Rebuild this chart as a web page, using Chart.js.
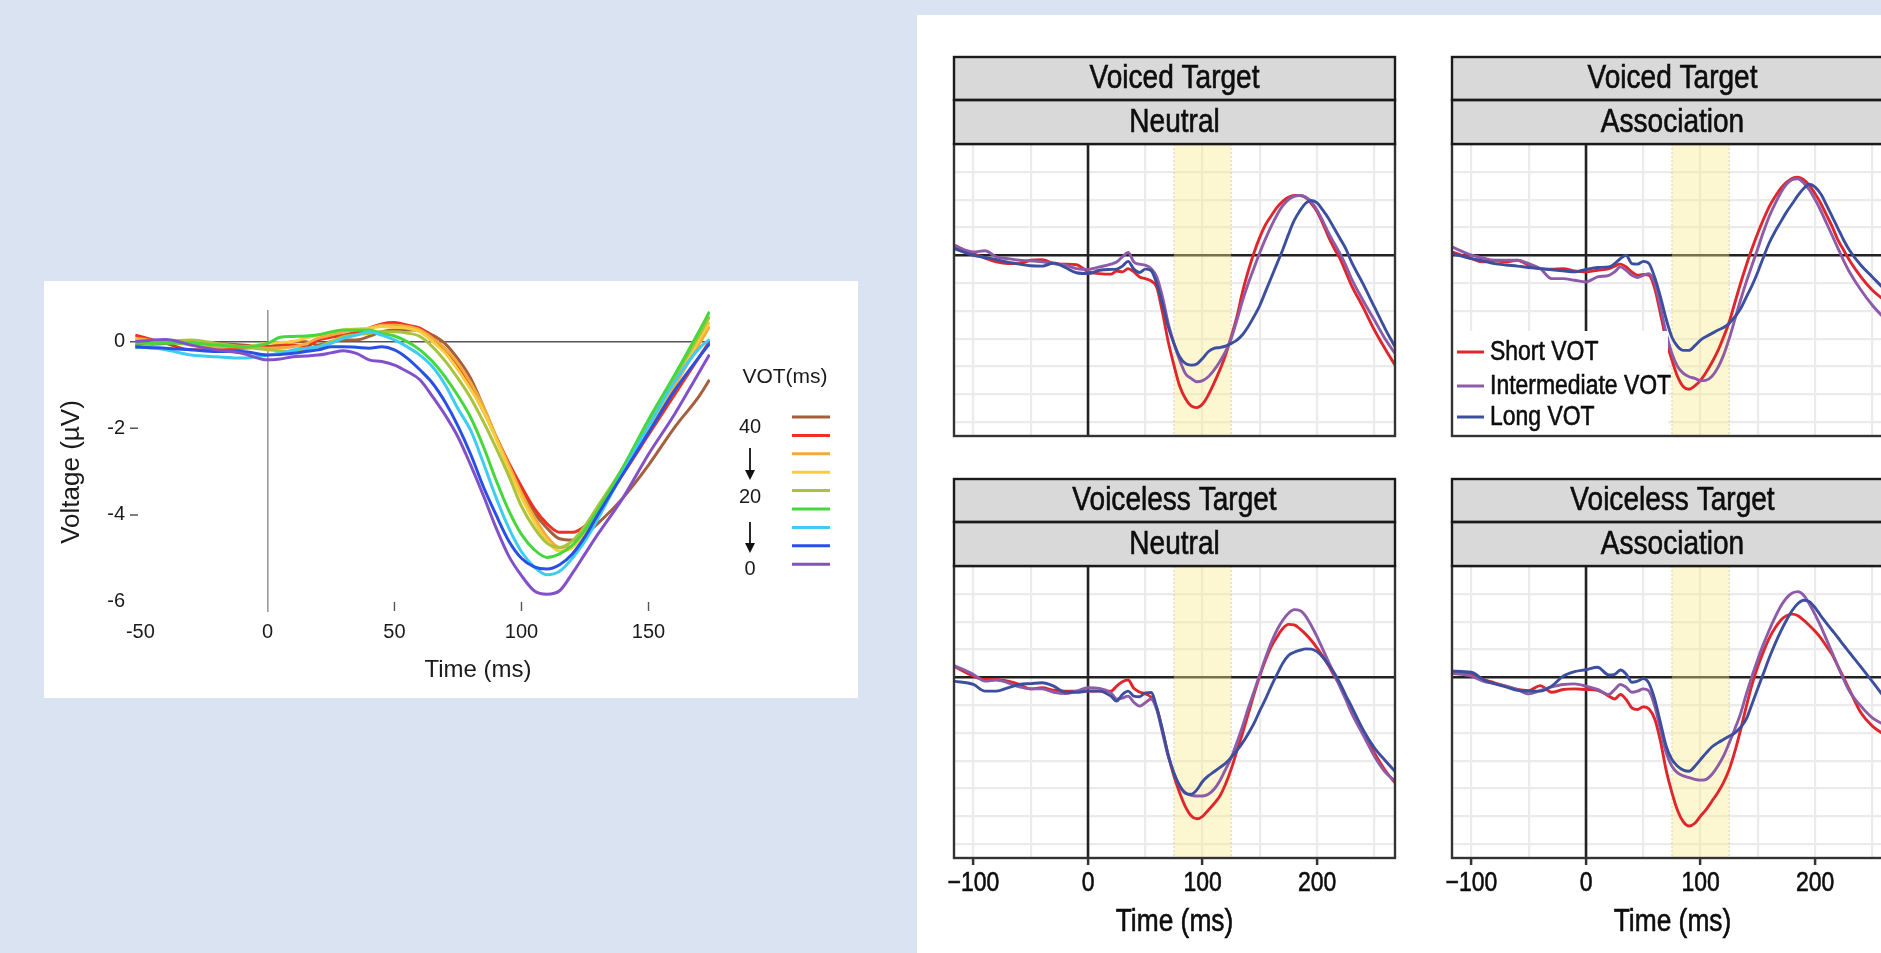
<!DOCTYPE html>
<html><head><meta charset="utf-8">
<script src="https://cdn.jsdelivr.net/npm/chart.js@4.4.1/dist/chart.umd.min.js"></script>
<style>
html,body{margin:0;padding:0;width:1881px;height:953px;overflow:hidden;background:#dae3f2;}
.box{position:absolute;background:#fff;}
canvas{position:absolute;}
</style></head><body>
<div class="box" style="left:44px;top:281px;width:814px;height:417px"></div>
<div class="box" style="left:917px;top:15px;width:964px;height:938px"></div>
<canvas id="left" width="814" height="417" style="left:44px;top:281px"></canvas>
<canvas id="p1" width="491" height="399" style="left:924px;top:47px"></canvas>
<canvas id="p2" width="491" height="399" style="left:1422px;top:47px"></canvas>
<canvas id="p3" width="491" height="484" style="left:924px;top:469px"></canvas>
<canvas id="p4" width="491" height="484" style="left:1422px;top:469px"></canvas>
<script>
// ---------- LEFT CHART DATA ----------
const votTime = [-52,-45,-40,-30,-20,-10,0,5,10,15,20,25,30,35,40,45,50,55,60,65,70,75,80,85,90,95,100,105,110,115,120,125,130,140,150,160,170,174];
const vot40 = [-0.08,-0.06,-0.04,0,-0.04,-0.08,-0.12,-0.06,0,0,-0.08,0,0.04,0.04,0.12,0.23,0.27,0.27,0.27,0.15,-0.05,-0.4,-0.85,-1.5,-2.2,-2.85,-3.45,-3.95,-4.3,-4.55,-4.58,-4.45,-4.2,-3.6,-2.85,-2.0,-1.25,-0.88];
const vot35 = [0.15,0.04,-0.04,-0.19,-0.19,-0.15,-0.12,-0.1,-0.08,-0.12,0.04,0.1,0.15,0.22,0.31,0.41,0.44,0.38,0.31,0.1,-0.2,-0.6,-1.05,-1.6,-2.2,-2.8,-3.35,-3.85,-4.2,-4.4,-4.4,-4.25,-3.9,-3.05,-2.15,-1.25,-0.35,0.0];
const vot30 = [0.08,0.02,0,-0.08,-0.12,-0.12,-0.15,-0.14,-0.12,-0.05,0.08,0.15,0.23,0.27,0.31,0.38,0.38,0.35,0.27,0.08,-0.16,-0.5,-0.95,-1.5,-2.2,-2.85,-3.5,-4.05,-4.5,-4.75,-4.72,-4.4,-3.95,-3.0,-2.0,-1.05,-0.05,0.35];
const vot25 = [0.04,0.02,0,-0.04,-0.08,-0.12,-0.04,-0.02,0,0.08,0.15,0.22,0.27,0.29,0.31,0.35,0.33,0.31,0.23,0.0,-0.27,-0.65,-1.1,-1.6,-2.25,-2.95,-3.6,-4.15,-4.6,-4.83,-4.75,-4.4,-3.9,-2.95,-1.95,-0.95,0.05,0.45];
const vot20 = [-0.15,-0.05,0,0.04,-0.04,-0.12,-0.19,-0.21,-0.23,-0.18,-0.12,0.0,0.12,0.16,0.19,0.23,0.23,0.2,0.12,-0.12,-0.45,-0.85,-1.3,-1.85,-2.45,-3.1,-3.8,-4.3,-4.65,-4.75,-4.6,-4.25,-3.8,-2.9,-1.85,-0.85,0.15,0.58];
const vot15 = [-0.04,-0.04,-0.04,-0.04,-0.08,-0.12,-0.04,0.1,0.12,0.13,0.16,0.22,0.27,0.27,0.27,0.19,0.13,0.0,-0.19,-0.46,-0.82,-1.25,-1.75,-2.42,-3.2,-3.9,-4.45,-4.8,-4.98,-4.9,-4.7,-4.35,-3.9,-2.9,-1.8,-0.8,0.25,0.69];
const vot10 = [-0.12,-0.15,-0.19,-0.31,-0.35,-0.38,-0.31,-0.27,-0.19,-0.15,-0.12,-0.04,0.08,0.15,0.23,0.15,0.04,-0.12,-0.31,-0.58,-1.0,-1.55,-2.05,-2.8,-3.6,-4.3,-4.85,-5.2,-5.38,-5.3,-5.0,-4.6,-4.1,-3.0,-1.95,-0.95,-0.15,0.05];
const vot5 = [-0.12,-0.14,-0.15,-0.19,-0.23,-0.23,-0.31,-0.3,-0.27,-0.23,-0.19,-0.12,-0.12,-0.13,-0.15,-0.12,-0.19,-0.38,-0.65,-0.96,-1.4,-1.95,-2.6,-3.35,-4.0,-4.6,-5.0,-5.2,-5.25,-5.15,-4.9,-4.5,-4.0,-3.05,-2.1,-1.15,-0.35,-0.05];
const vot0 = [0,0.04,0.05,-0.08,-0.19,-0.27,-0.42,-0.4,-0.35,-0.33,-0.31,-0.26,-0.21,-0.27,-0.42,-0.46,-0.54,-0.69,-0.88,-1.27,-1.7,-2.2,-2.85,-3.55,-4.3,-4.95,-5.4,-5.75,-5.83,-5.75,-5.35,-4.9,-4.45,-3.6,-2.6,-1.7,-0.7,-0.3];
const votSeries = [vot40,vot35,vot30,vot25,vot20,vot15,vot10,vot5,vot0];
const votNames = ['40','35','30','25','20','15','10','5','0'];
const votColors = ['#a65f3c','#ec3223','#f3aa3c','#f8cd3c','#a9c33c','#46d73c','#3ccdf0','#2850e6','#8250c8'];
const votLegendText = ['40','20','0'];
const leftXTicks = [-50,0,50,100,150];
const leftYTicks = [0,-2,-4,-6];
const leftXRange = [-54.1,174.2];
const leftYRange = [-6.24,0.73];

// ---------- RIGHT PANELS DATA ----------
const erpTime = [-117,-100,-90,-80,-70,-60,-50,-40,-30,-20,-10,0,10,20,25,30,35,40,45,50,55,60,65,70,75,80,85,90,95,100,105,110,115,120,125,130,135,140,145,150,155,160,165,170,175,180,185,190,195,200,205,210,215,220,225,230,240,250,260,268];
const vnShort = [0.30,0.06,-0.10,-0.24,-0.30,-0.30,-0.18,-0.16,-0.30,-0.32,-0.34,-0.60,-0.66,-0.68,-0.57,-0.60,-0.48,-0.60,-0.78,-0.84,-0.92,-1.15,-2.05,-3.10,-3.95,-4.70,-5.15,-5.42,-5.48,-5.35,-5.03,-4.60,-4.13,-3.60,-2.93,-2.21,-1.30,-0.55,0.10,0.65,1.10,1.42,1.72,1.94,2.08,2.15,2.15,2.07,1.86,1.56,1.14,0.66,0.24,-0.12,-0.60,-1.08,-1.86,-2.69,-3.41,-3.95];
const vnInter = [0.36,0.12,0.16,-0.06,-0.12,-0.18,-0.20,-0.24,-0.30,-0.36,-0.48,-0.51,-0.42,-0.32,-0.24,-0.06,0.10,-0.24,-0.32,-0.36,-0.48,-0.78,-1.50,-2.45,-3.17,-3.77,-4.25,-4.43,-4.55,-4.51,-4.37,-4.13,-3.83,-3.47,-2.99,-2.33,-1.62,-1.00,-0.45,0.10,0.60,1.05,1.45,1.78,2.00,2.12,2.15,2.09,1.92,1.62,1.23,0.80,0.42,0.06,-0.36,-0.84,-1.62,-2.33,-3.05,-3.53];
const vnLong = [0.24,0.00,-0.08,-0.16,-0.25,-0.32,-0.38,-0.39,-0.28,-0.44,-0.63,-0.66,-0.54,-0.51,-0.50,-0.39,-0.22,-0.50,-0.62,-0.50,-0.55,-1.02,-1.74,-2.57,-3.17,-3.65,-3.89,-3.95,-3.91,-3.71,-3.47,-3.35,-3.32,-3.27,-3.17,-3.05,-2.85,-2.55,-2.20,-1.80,-1.30,-0.80,-0.30,0.20,0.75,1.25,1.60,1.87,1.97,1.88,1.62,1.32,0.96,0.60,0.24,-0.24,-1.02,-1.86,-2.69,-3.29];
const vaShort = [0.12,-0.12,-0.24,-0.20,-0.24,-0.18,-0.36,-0.48,-0.50,-0.48,-0.56,-0.60,-0.54,-0.48,-0.39,-0.32,-0.42,-0.60,-0.72,-0.69,-0.72,-1.20,-2.10,-3.05,-3.77,-4.37,-4.73,-4.82,-4.70,-4.50,-4.20,-3.85,-3.45,-2.95,-2.40,-1.70,-1.00,-0.35,0.25,0.80,1.30,1.75,2.10,2.40,2.62,2.77,2.81,2.72,2.51,2.21,1.86,1.44,1.02,0.54,0.18,-0.18,-0.78,-1.26,-1.60,-1.86];
const vaInter = [0.30,0.00,-0.10,-0.18,-0.18,-0.18,-0.30,-0.48,-0.84,-0.84,-0.90,-0.96,-0.78,-0.72,-0.60,-0.42,-0.54,-0.72,-0.80,-0.72,-0.66,-1.02,-1.86,-2.81,-3.53,-4.01,-4.25,-4.37,-4.43,-4.51,-4.49,-4.35,-4.05,-3.60,-3.00,-2.30,-1.60,-0.95,-0.35,0.25,0.85,1.40,1.85,2.25,2.55,2.72,2.75,2.60,2.35,2.00,1.60,1.15,0.70,0.25,-0.20,-0.60,-1.25,-1.80,-2.25,-2.57];
const vaLong = [0.06,-0.12,-0.20,-0.30,-0.35,-0.39,-0.44,-0.48,-0.52,-0.56,-0.60,-0.51,-0.44,-0.42,-0.30,-0.12,0.00,-0.30,-0.32,-0.22,-0.30,-0.80,-1.50,-2.30,-2.95,-3.28,-3.42,-3.42,-3.25,-3.05,-2.92,-2.81,-2.70,-2.60,-2.45,-2.21,-1.92,-1.50,-1.08,-0.60,-0.06,0.45,0.85,1.20,1.55,1.85,2.15,2.40,2.55,2.45,2.20,1.80,1.38,0.96,0.54,0.18,-0.36,-0.78,-1.20,-1.50];
const unShort = [0.39,0.04,-0.08,-0.08,-0.14,-0.26,-0.42,-0.38,-0.47,-0.50,-0.50,-0.50,-0.50,-0.50,-0.32,-0.16,-0.10,-0.40,-0.53,-0.60,-0.72,-1.10,-1.90,-2.80,-3.55,-4.15,-4.65,-4.98,-5.09,-5.00,-4.78,-4.55,-4.28,-3.85,-3.30,-2.65,-2.00,-1.30,-0.60,0.05,0.62,1.10,1.45,1.75,1.90,1.88,1.74,1.55,1.32,1.05,0.75,0.42,0.05,-0.30,-0.70,-1.10,-1.94,-2.72,-3.38,-3.79];
const unInter = [0.42,0.10,-0.14,-0.10,-0.20,-0.35,-0.42,-0.42,-0.54,-0.59,-0.50,-0.38,-0.40,-0.56,-0.78,-0.75,-0.68,-0.90,-1.04,-0.92,-0.78,-1.16,-2.00,-2.84,-3.44,-3.91,-4.15,-4.25,-4.27,-4.27,-4.21,-4.03,-3.73,-3.32,-2.90,-2.35,-1.75,-1.10,-0.50,0.10,0.70,1.25,1.70,2.05,2.30,2.43,2.40,2.20,1.85,1.45,1.00,0.55,0.10,-0.35,-0.80,-1.28,-2.06,-2.84,-3.44,-3.73];
const unLong = [-0.14,-0.26,-0.50,-0.50,-0.38,-0.26,-0.23,-0.20,-0.32,-0.54,-0.54,-0.50,-0.50,-0.68,-0.86,-0.62,-0.50,-0.68,-0.70,-0.56,-0.55,-1.10,-1.90,-2.80,-3.45,-3.90,-4.17,-4.21,-4.05,-3.75,-3.55,-3.40,-3.25,-3.10,-2.88,-2.63,-2.35,-2.02,-1.65,-1.20,-0.78,-0.32,0.10,0.50,0.78,0.90,0.97,1.02,1.01,0.92,0.72,0.45,0.15,-0.22,-0.65,-1.05,-1.88,-2.54,-3.02,-3.38];
const uaShort = [0.13,0.10,-0.08,-0.20,-0.32,-0.44,-0.48,-0.30,-0.54,-0.44,-0.42,-0.44,-0.47,-0.68,-0.78,-0.62,-0.80,-1.10,-1.16,-1.06,-1.14,-1.50,-2.30,-3.35,-4.15,-4.80,-5.20,-5.35,-5.25,-4.99,-4.75,-4.45,-4.15,-3.79,-3.32,-2.66,-1.88,-1.04,-0.26,0.39,0.93,1.41,1.77,2.05,2.21,2.27,2.21,2.05,1.86,1.65,1.41,1.11,0.81,0.39,-0.02,-0.45,-1.28,-1.76,-2.05,-2.24];
const uaInter = [0.16,0.04,-0.14,-0.23,-0.32,-0.44,-0.60,-0.48,-0.35,-0.26,-0.24,-0.32,-0.44,-0.62,-0.44,-0.26,-0.36,-0.54,-0.50,-0.42,-0.50,-1.04,-1.88,-2.72,-3.20,-3.44,-3.55,-3.61,-3.67,-3.70,-3.67,-3.49,-3.20,-2.84,-2.36,-1.85,-1.30,-0.60,0.05,0.65,1.20,1.70,2.15,2.55,2.85,3.03,3.08,2.95,2.63,2.25,1.83,1.35,0.87,0.39,-0.08,-0.50,-1.04,-1.46,-1.70,-1.88];
const uaLong = [0.22,0.18,-0.08,-0.23,-0.35,-0.47,-0.50,-0.50,-0.32,0.04,0.20,0.27,0.36,0.08,0.10,0.26,0.12,-0.18,-0.14,-0.05,-0.22,-0.80,-1.64,-2.48,-2.96,-3.20,-3.34,-3.38,-3.20,-2.96,-2.72,-2.50,-2.36,-2.24,-2.12,-2.00,-1.80,-1.50,-0.95,-0.40,0.15,0.70,1.20,1.65,2.05,2.40,2.65,2.77,2.72,2.50,2.21,1.94,1.68,1.42,1.15,0.89,0.37,-0.16,-0.70,-1.10];
const condNames = ['Short VOT','Intermediate VOT','Long VOT'];
const condColors = ['#e0262b','#8d5ba7','#3c4f9e'];
const stripTop = ['Voiced Target','Voiced Target','Voiceless Target','Voiceless Target'];
const stripBottom = ['Neutral','Association','Neutral','Association'];
const erpXTicks = [-100,-50,0,50,100,150,200,250];
const erpYTicks = [-6,-5,-4,-3,-2,-1,0,1,2,3];
const erpXRange = [-117,268];
const erpYRange = [-6.5,4];
const bandRange = [75,125];

const SANS = '"Liberation Sans",Arial,Helvetica,sans-serif';
const NARROW_SCALE = 0.85;
function narrowText(ctx,text,x,y,size,align,bold){
  ctx.save();
  ctx.translate(x,y); ctx.scale(NARROW_SCALE,1);
  ctx.font=size+'px '+SANS; ctx.textAlign=align||'center'; ctx.textBaseline='middle';
  ctx.fillText(text,0,0);
  if(bold){ ctx.lineWidth=0.6; ctx.strokeStyle=ctx.fillStyle; ctx.strokeText(text,0,0); }
  ctx.restore();
}

// ---------- LEFT CHART ----------
const leftDecor = {
  id:'leftDecor',
  afterDraw(chart){
    const {ctx, chartArea:a, scales:{x,y}} = chart;
    ctx.save();
    ctx.strokeStyle='#555'; ctx.lineWidth=1.4;
    ctx.beginPath();
    [-2,-4].forEach(v=>{const py=y.getPixelForValue(v); ctx.moveTo(a.left,py); ctx.lineTo(a.left+8,py);});
    [50,100,150].forEach(v=>{const px=x.getPixelForValue(v); ctx.moveTo(px,a.bottom-10); ctx.lineTo(px,a.bottom-1);});
    ctx.stroke();
    ctx.fillStyle='#1a1a1a';
    ctx.textAlign='center'; ctx.textBaseline='middle';
    ctx.font='24px '+SANS;
    ctx.fillText('Time (ms)', 434, 389);
    ctx.font='26px '+SANS;
    ctx.save(); ctx.translate(28,191); ctx.rotate(-Math.PI/2); ctx.fillText('Voltage (\u00b5V)',0,0); ctx.restore();
    ctx.font='21px '+SANS; ctx.fillText('VOT(ms)', 741, 96);
    ctx.font='20px '+SANS;
    ctx.fillText(votLegendText[0],706,146); ctx.fillText(votLegendText[1],706,216); ctx.fillText(votLegendText[2],706,288);
    chart.data.datasets.forEach((d,i)=>{
      const py = 136 + i*18.4;
      ctx.strokeStyle=d.borderColor; ctx.lineWidth=3;
      ctx.beginPath(); ctx.moveTo(748,py); ctx.lineTo(786,py); ctx.stroke();
    });
    ctx.strokeStyle='#111'; ctx.fillStyle='#111'; ctx.lineWidth=1.8;
    [[167,199],[241,272]].forEach(([t,b])=>{
      ctx.beginPath(); ctx.moveTo(706,t); ctx.lineTo(706,b-8); ctx.stroke();
      ctx.beginPath(); ctx.moveTo(701,b-10); ctx.lineTo(711,b-10); ctx.lineTo(706,b); ctx.closePath(); ctx.fill();
    });
    ctx.restore();
  }
};
new Chart(document.getElementById('left'),{
  type:'line',
  data:{datasets:votSeries.map((s,i)=>({label:votNames[i],data:votTime.map((t,j)=>({x:t,y:s[j]})),borderColor:votColors[i],borderWidth:3,pointRadius:0,cubicInterpolationMode:'monotone',fill:false,order:9-i}))},
  options:{
    responsive:false,animation:false,events:[],
    layout:{padding:{left:0,top:29,right:148,bottom:0}},
    plugins:{legend:{display:false},tooltip:{enabled:false}},
    scales:{
      x:{type:'linear',min:leftXRange[0],max:leftXRange[1],
        afterBuildTicks:s=>{s.ticks=leftXTicks.map(v=>({value:v}));},
        afterFit:s=>{s.height=86;},
        border:{display:false},
        grid:{drawTicks:false,color:c=>(c.tick&&c.tick.value===0)?'#9a9a9a':'rgba(0,0,0,0)',lineWidth:1.6},
        ticks:{padding:8,autoSkip:false,maxRotation:0,color:'#1a1a1a',font:{family:SANS,size:20}}},
      y:{type:'linear',min:leftYRange[0],max:leftYRange[1],
        afterBuildTicks:s=>{s.ticks=leftYTicks.map(v=>({value:v}));},
        afterFit:s=>{s.width=86;},
        border:{display:false},
        grid:{drawTicks:false,color:c=>(c.tick&&c.tick.value===0)?'#555':'rgba(0,0,0,0)',lineWidth:1.4},
        ticks:{padding:5,color:'#1a1a1a',font:{family:SANS,size:20}}}
    }
  },
  plugins:[leftDecor]
});

// ---------- RIGHT PANELS ----------
const decorRight = {
  id:'decorRight',
  beforeDatasetsDraw(chart){
    const {ctx, chartArea:a, scales:{x,y}} = chart;
    ctx.save();
    ctx.beginPath(); ctx.rect(a.left,a.top,a.right-a.left,a.bottom-a.top); ctx.clip();
    const y0=y.getPixelForValue(0), x0=x.getPixelForValue(0);
    ctx.strokeStyle='#222'; ctx.lineWidth=2.6;
    ctx.beginPath(); ctx.moveTo(a.left,y0); ctx.lineTo(a.right,y0); ctx.moveTo(x0,a.top); ctx.lineTo(x0,a.bottom); ctx.stroke();
    const b1=x.getPixelForValue(bandRange[0]), b2=x.getPixelForValue(bandRange[1]);
    ctx.fillStyle='rgba(250,236,140,0.40)';
    ctx.fillRect(b1,a.top,b2-b1,a.bottom-a.top);
    ctx.setLineDash([2,2]); ctx.strokeStyle='rgba(175,175,150,0.55)'; ctx.lineWidth=1;
    ctx.beginPath(); ctx.moveTo(b1,a.top); ctx.lineTo(b1,a.bottom); ctx.moveTo(b2,a.top); ctx.lineTo(b2,a.bottom); ctx.stroke();
    ctx.restore();
  },
  afterDraw(chart,args,opts){
    const {ctx, chartArea:a, scales:{x}} = chart;
    ctx.save();
    const cx=(a.left+a.right)/2;
    if(opts.showLegend){
      ctx.fillStyle='#fff';
      ctx.fillRect(a.left,a.bottom-105,216,105);
      const ys=[a.bottom-84,a.bottom-50,a.bottom-19];
      chart.data.datasets.forEach((d,i)=>{
        ctx.strokeStyle=d.borderColor; ctx.lineWidth=3;
        ctx.beginPath(); ctx.moveTo(a.left+5,ys[i]); ctx.lineTo(a.left+32,ys[i]); ctx.stroke();
        ctx.fillStyle='#0d0d0d';
        narrowText(ctx,d.label,a.left+38,ys[i]+1,27,'left',true);
      });
    }
    ctx.strokeStyle='#333'; ctx.lineWidth=2.4;
    ctx.strokeRect(a.left,a.top,a.right-a.left,a.bottom-a.top);
    const s0=a.top-87, s1=a.top-44;
    ctx.fillStyle='#d9d9d9';
    ctx.fillRect(a.left,s0,a.right-a.left,87);
    ctx.strokeStyle='#1a1a1a'; ctx.lineWidth=2.4;
    ctx.strokeRect(a.left,s0,a.right-a.left,43);
    ctx.strokeRect(a.left,s1,a.right-a.left,44);
    ctx.fillStyle='#0d0d0d';
    narrowText(ctx,opts.s1,cx,s0+22,33,'center',true);
    narrowText(ctx,opts.s2,cx,s1+23,33,'center',true);
    if(opts.showX){
      x.ticks.forEach(t=>{
        if(t.value%100!==0) return;
        narrowText(ctx,String(t.value).replace('-','\u2212'),x.getPixelForValue(t.value),a.bottom+26,27,'center',true);
      });
      narrowText(ctx,'Time (ms)',cx,a.bottom+64,31,'center',true);
    }
    ctx.restore();
  }
};
function makePanel(id,idx,sh,im,lg,showX,showLegend){
  const mk=(i,arr,ord)=>({label:condNames[i],data:erpTime.map((t,j)=>({x:t,y:arr[j]})),borderColor:condColors[i],borderWidth:2.9,pointRadius:0,cubicInterpolationMode:'monotone',fill:false,order:ord});
  return new Chart(document.getElementById(id),{
    type:'line',
    data:{datasets:[mk(0,sh,3),mk(1,im,2),mk(2,lg,1)]},
    options:{
      responsive:false,animation:false,events:[],
      layout:{padding:{left:0,right:20,top:97,bottom:0}},
      plugins:{legend:{display:false},tooltip:{enabled:false},decorRight:{s1:stripTop[idx],s2:stripBottom[idx],showX,showLegend}},
      scales:{
        x:{type:'linear',min:erpXRange[0],max:erpXRange[1],
          afterBuildTicks:s=>{s.ticks=erpXTicks.map(v=>({value:v}));},
          afterFit:s=>{s.height=showX?95:10;},
          border:{display:false},
          grid:{color:'#ebebeb',lineWidth:2.2,drawTicks:showX,tickLength:7,tickWidth:2.5,
                tickColor:c=>(c.tick&&c.tick.value%100===0)?'#333':'rgba(0,0,0,0)'},
          ticks:{display:false}},
        y:{type:'linear',min:erpYRange[0],max:erpYRange[1],
          afterBuildTicks:s=>{s.ticks=erpYTicks.map(v=>({value:v}));},
          afterFit:s=>{s.width=30;},
          border:{display:false},
          grid:{color:'#ebebeb',lineWidth:2.2,drawTicks:false},
          ticks:{display:false}}
      }
    },
    plugins:[decorRight]
  });
}
makePanel('p1',0,vnShort,vnInter,vnLong,false,false);
makePanel('p2',1,vaShort,vaInter,vaLong,false,true);
makePanel('p3',2,unShort,unInter,unLong,true,false);
makePanel('p4',3,uaShort,uaInter,uaLong,true,false);
</script>
</body></html>
